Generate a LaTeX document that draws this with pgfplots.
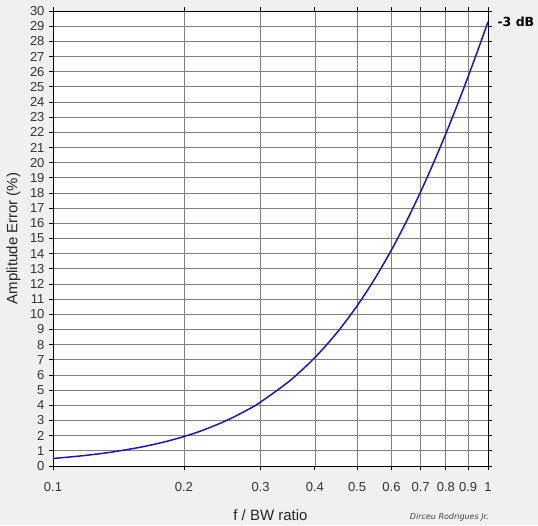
\documentclass[border=0pt]{standalone}
\usepackage{fontspec}
\setmainfont{Liberation Sans}
\newfontfamily\verdana{DejaVu Sans}
\usepackage{pgfplots}
\pgfplotsset{compat=1.18}
\definecolor{bg}{RGB}{240,240,240}
\definecolor{gridc}{RGB}{128,128,128}
\definecolor{curve}{RGB}{28,24,190}

\begin{document}
\begin{tikzpicture}
\fill[bg] (-53pt,-59pt) rectangle (485pt,466pt);
\begin{axis}[
    scale only axis,
    width=435pt, height=455pt,
    xmode=log,
    xmin=0.1, xmax=1,
    ymin=0, ymax=30,
    axis background/.style={fill=white},
    axis line style={black, line width=0.9pt},
    xtick={0.1,0.2,0.3,0.4,0.5,0.6,0.7,0.8,0.9,1},
    xticklabels={0.1,0.2,0.3,0.4,0.5,0.6,0.7,0.8,0.9,1},
    ytick={0,1,...,30},
    minor xtick={},
    tick align=outside,
    tick pos=both,
    major tick length=4pt,
    tick style={black, line width=0.8pt},
    grid=major,
    major grid style={gridc, line width=0.7pt},
    log basis x=10,
    ticklabel style={font=\fontsize{13}{13}\selectfont, color=black!80},
    /pgf/number format/assume math mode=true,
    xticklabel style={yshift=-9pt},
    yticklabel style={xshift=-1pt},
    xlabel={f / BW ratio},
    ylabel={Amplitude Error (\%)},
    label style={font=\fontsize{15}{15}\selectfont, color=black!85},
    xlabel style={at={(axis description cs:0.5,0)}, anchor=north, yshift=-40pt},
    ylabel style={at={(axis description cs:0,0.5)}, anchor=south, yshift=29pt},
    clip=false,
]
\addplot[curve, line width=1.5pt, smooth] coordinates {
    (0.10,0.496) (0.11,0.601) (0.12,0.712) (0.13,0.834) (0.14,0.966)
    (0.16,1.256) (0.18,1.582) (0.20,1.942) (0.22,2.336) (0.25,2.986)
    (0.28,3.704) (0.30,4.217) (0.35,5.614) (0.40,7.152) (0.45,8.808)
    (0.50,10.557) (0.55,12.378) (0.60,14.251) (0.65,16.156) (0.70,18.077)
    (0.75,20.000) (0.80,21.913) (0.85,23.806) (0.90,25.671) (0.95,27.500)
    (1.00,29.289)
};
\node[anchor=west, font=\verdana\bfseries\fontsize{12.5}{13}\selectfont, xshift=6pt]
    at (axis cs:1,29.289) {-3 dB};
\node[anchor=east, font=\verdana\itshape\fontsize{8}{9}\selectfont, color=black!75]
    at (rel axis cs:1.01,0) [yshift=-51pt] {Dirceu Rodrigues Jr.};
\end{axis}
\end{tikzpicture}
\end{document}
